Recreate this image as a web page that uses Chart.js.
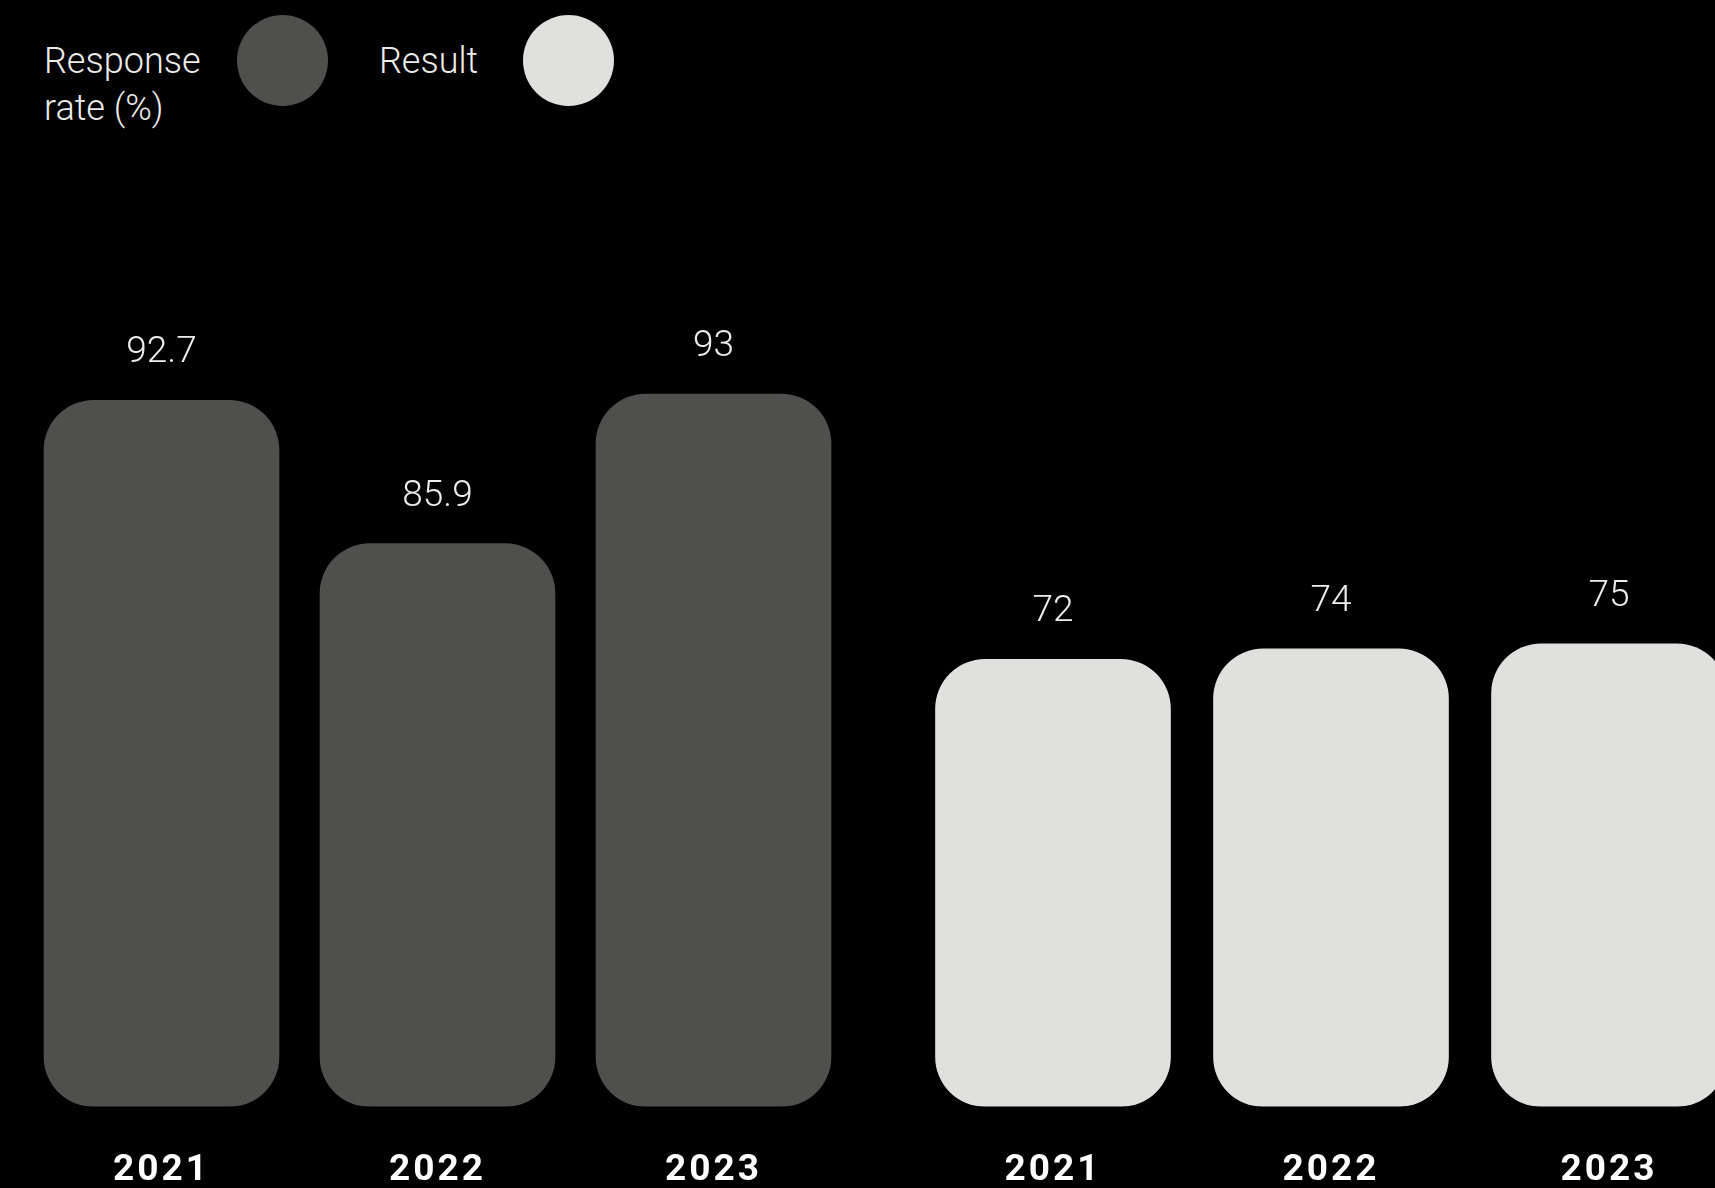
<!DOCTYPE html>
<html>
<head>
<meta charset="utf-8">
<title>Response rate and result</title>
<script src="https://cdn.jsdelivr.net/npm/chart.js@4.4.1/dist/chart.umd.min.js"></script>
<style>
html, body { margin: 0; padding: 0; background: #000; width: 1715px; height: 1188px; overflow: hidden; }
body { position: relative; font-family: Roboto, "Noto Sans", sans-serif; color: #ececea; }
.lbl { position: absolute; top: 38px; font-size: 36px; line-height: 47px; font-weight: 300; }
.dot { position: absolute; top: 15px; width: 91px; height: 91px; border-radius: 50%; }
canvas { position: absolute; }
</style>
</head>
<body>
<div id="legend"></div>
<canvas id="left" width="872" height="1085" style="left:0px; top:150px;"></canvas>
<canvas id="right" width="834" height="1085" style="left:914px; top:150px;"></canvas>
<script>
var years = ['2021', '2022', '2023']
var responseRate = [92.7, 85.9, 93]
var result = [72, 74, 75]
var seriesNames = ['Response rate (%)', 'Result']
var seriesColors = ['#4f4f4d', '#e0e0de']

// legend (html, the circles sit right of the names)
var legendPos = [{ text: 44, dot: 237, width: 160 }, { text: 379, dot: 523, width: 140 }]
var legend = document.getElementById('legend')
for (var i = 0; i < seriesNames.length; i++) {
    var t = document.createElement('div')
    t.className = 'lbl'
    t.style.left = legendPos[i].text + 'px'
    t.style.width = legendPos[i].width + 'px'
    t.textContent = seriesNames[i]
    legend.appendChild(t)
    var d = document.createElement('div')
    d.className = 'dot'
    d.style.left = legendPos[i].dot + 'px'
    d.style.background = seriesColors[i]
    legend.appendChild(d)
}

const valueLabels = {
    id: 'valueLabels',
    beforeDraw(chart) {
        chart.ctx.letterSpacing = '3px'
    },
    beforeDatasetsDraw(chart) {
        chart.ctx.letterSpacing = '0px'
    },
    afterDatasetsDraw(chart) {
        const ctx = chart.ctx
        ctx.save()
        ctx.font = '300 37px Roboto'
        ctx.fillStyle = '#ececea'
        ctx.textAlign = 'center'
        ctx.textBaseline = 'alphabetic'
        chart.data.datasets.forEach((ds, di) => {
            chart.getDatasetMeta(di).data.forEach((bar, i) => {
                ctx.fillText(String(ds.data[i]), bar.x, bar.y - 38)
            })
        })
        ctx.restore()
    }
}

function makeChart(id, name, values, color, yMin, yMax, pad) {
    return new Chart(document.getElementById(id), {
        type: 'bar',
        data: {
            labels: years,
            datasets: [{
                label: name,
                data: values,
                base: yMin,
                backgroundColor: color,
                borderRadius: 50,
                borderSkipped: false,
                barThickness: 235
            }]
        },
        options: {
            responsive: false,
            animation: false,
            layout: { padding: pad },
            plugins: { legend: { display: false }, tooltip: { enabled: false } },
            scales: {
                x: {
                    grid: { display: false, drawTicks: false },
                    border: { display: false },
                    ticks: {
                        color: '#ffffff',
                        padding: 42,
                        font: { family: 'Roboto', size: 37, weight: 'bold' }
                    }
                },
                y: { display: false, min: yMin, max: yMax }
            }
        },
        plugins: [valueLabels]
    })
}

makeChart('left', seriesNames[0], responseRate, seriesColors[0], 59.2, 102.2, { top: 50, left: 23.5, right: 20.5, bottom: 0 })
makeChart('right', seriesNames[1], result, seriesColors[1], -14.9, 161.2, { top: 50, left: 0, right: 0, bottom: 0 })
</script>
</body>
</html>
